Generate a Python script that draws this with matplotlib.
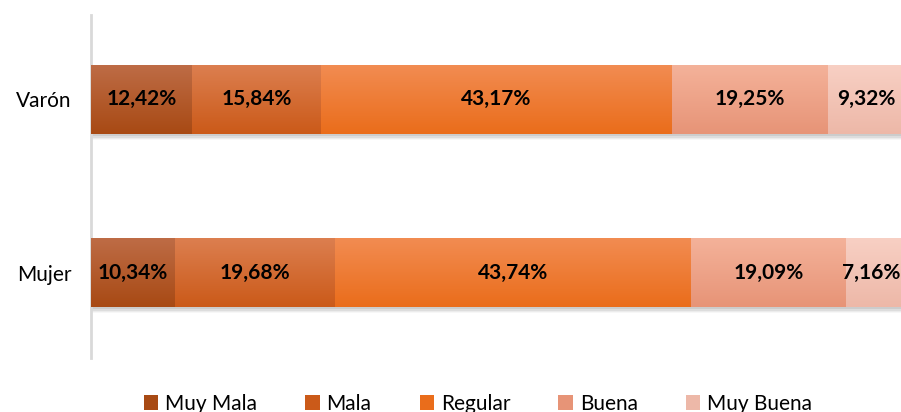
import numpy as np
import matplotlib.pyplot as plt
import matplotlib.colors as mcolors
from matplotlib.patches import Patch

categories = ["Mujer", "Varón"]
levels = ["Muy Mala", "Mala", "Regular", "Buena", "Muy Buena"]
values = {
    "Muy Mala": [10.34, 12.42],
    "Mala": [19.68, 15.84],
    "Regular": [43.74, 43.17],
    "Buena": [19.09, 19.25],
    "Muy Buena": [7.16, 9.32],
}
# (top, bottom) gradient colours per level
colors = {
    "Muy Mala": ("#BE6C46", "#A84A14"),
    "Mala": ("#DC7F50", "#CB5A19"),
    "Regular": ("#F28C52", "#EA6D1B"),
    "Buena": ("#F4B29A", "#E79477"),
    "Muy Buena": ("#F8D0C4", "#EDB8A8"),
}

plt.rcParams["font.family"] = ["Lato", "DejaVu Sans"]

fig = plt.figure(figsize=(9.01, 4.12), dpi=100)
ax = fig.add_axes([91 / 901, 54 / 412, 1 - 91 / 901, 343 / 412])

y = np.arange(len(categories))
h = 0.40
left = np.zeros(len(categories))
XMAX = 99.6

# soft shadow under bars
for i in range(len(categories)):
    for k, a in zip(range(4), [0.08, 0.06, 0.045, 0.03]):
        ax.barh(y[i] - 0.012 - k * 0.008, 100, height=h, left=0,
                color="#000000", alpha=a, linewidth=0, zorder=1)

labels = []
grad = np.linspace(0, 1, 64).reshape(-1, 1)
for lev in levels:
    vals = np.array(values[lev])
    top_c, bot_c = colors[lev]
    cmap = mcolors.LinearSegmentedColormap.from_list(lev, [bot_c, top_c])
    bars = ax.barh(y, vals, height=h, left=left, color=top_c,
                   linewidth=0, zorder=2)
    for b in bars:
        x0, y0 = b.get_x(), b.get_y()
        im = ax.imshow(grad, cmap=cmap, aspect="auto", origin="lower",
                       extent=[x0, x0 + b.get_width(), y0, y0 + b.get_height()],
                       zorder=3)
        im.set_clip_path(b)
    for i, v in enumerate(vals):
        t = ax.text(left[i] + v / 2, y[i], f"{v:.2f}%".replace(".", ","),
                    ha="center", va="center", fontsize=15, fontweight="bold",
                    color="black", zorder=4)
        labels.append(t)
    left += vals

ax.set_xlim(0, XMAX)
ax.set_ylim(-0.494, 1.488)
ax.set_yticks(y)
ax.set_yticklabels(categories, fontsize=15)
ax.tick_params(axis="y", length=0, pad=14)
ax.set_xticks([])
for s in ["top", "right", "bottom"]:
    ax.spines[s].set_visible(False)
ax.spines["left"].set_color("#D9D9D9")
ax.spines["left"].set_linewidth(2)

# keep labels that would run off the right edge inside the figure
fig.canvas.draw()
r = fig.canvas.get_renderer()
for t in labels:
    if t.get_window_extent(r).x1 > fig.bbox.width - 1:
        t.set_x(XMAX - 0.1)
        t.set_ha("right")

handles = [Patch(facecolor=colors[l][1], label=l) for l in levels]
fig.legend(handles=handles, loc="center", ncol=5, frameon=False,
           bbox_to_anchor=(478 / 901, 0.02), fontsize=15,
           handlelength=0.7, handleheight=0.7, handletextpad=0.33,
           columnspacing=2.3)

fig.savefig("out.png", dpi=100)
